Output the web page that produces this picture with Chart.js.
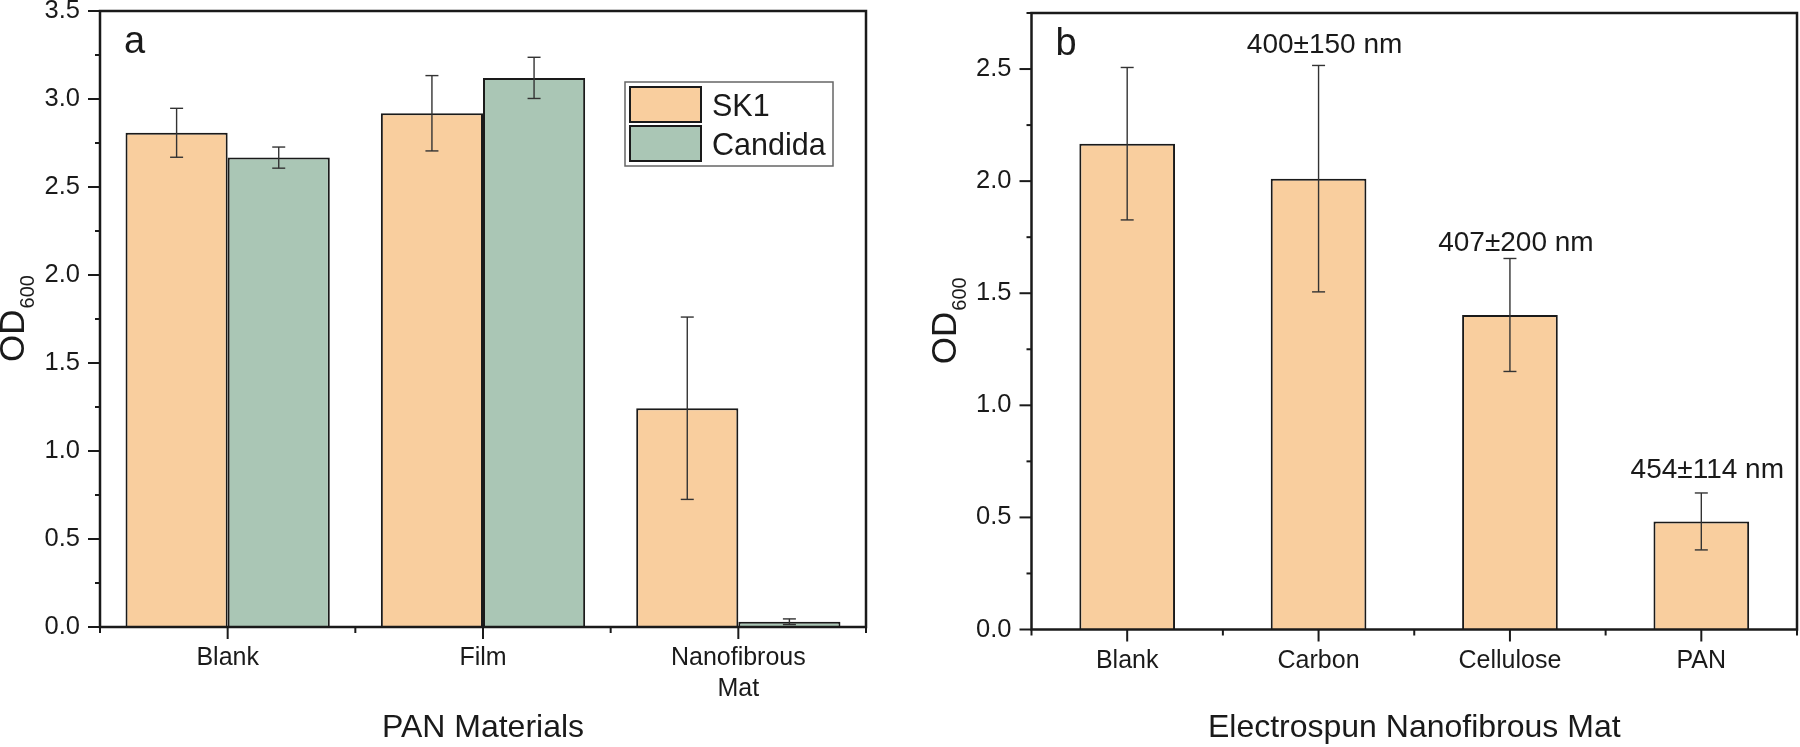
<!DOCTYPE html>
<html>
<head>
<meta charset="utf-8">
<script src="https://cdn.jsdelivr.net/npm/chart.js@4.4.1/dist/chart.umd.min.js"></script>
<style>
  body { margin: 0; background: #fff; width: 1800px; height: 747px; position: relative; overflow: hidden; }
  canvas { position: absolute; top: 0; }
  #chartA { left: 0; }
  #chartB { left: 900px; }
</style>
</head>
<body>
<canvas id="chartA" width="900" height="747"></canvas>
<canvas id="chartB" width="900" height="747"></canvas>
<script>
const FONT = "'Liberation Sans', Arial, Helvetica, sans-serif";
const INK = '#1a1a1a';

// panel a: PAN materials
const catsA = ['Blank', 'Film', ['Nanofibrous', 'Mat']];
const sk1 = [2.808, 2.919, 1.243];
const sk1Err = [0.139, 0.214, 0.518];
const candida = [2.667, 3.12, 0.03];
const candidaErr = [0.06, 0.117, 0.016];

// panel b: electrospun mats
const catsB = ['Blank', 'Carbon', 'Cellulose', 'PAN'];
const matOD = [2.167, 2.011, 1.403, 0.482];
const matErr = [0.34, 0.505, 0.252, 0.127];
const fiberLabels = ['', '400±150 nm', '407±200 nm', '454±114 nm'];
const fiberLabelY = [null, 2.57, 1.69, 0.677];

const orange = '#F9CE9E';
const green = '#AAC6B5';

function line(ctx, x1, y1, x2, y2) {
  ctx.beginPath();
  ctx.moveTo(x1, y1);
  ctx.lineTo(x2, y2);
  ctx.stroke();
}

// error bars, frame, ticks, panel letter, y title
const frame = {
  id: 'frame',
  afterDatasetsDraw(chart, args, opts) {
    const ctx = chart.ctx, a = chart.chartArea;
    const x = chart.scales.x, y = chart.scales.y;
    ctx.save();

    ctx.strokeStyle = '#333';
    ctx.lineWidth = 1.4;
    chart.data.datasets.forEach((ds, di) => {
      const meta = chart.getDatasetMeta(di);
      meta.data.forEach((bar, i) => {
        const v = ds.data[i], e = ds.err[i];
        const top = y.getPixelForValue(v + e), bot = y.getPixelForValue(v - e);
        line(ctx, bar.x, top, bar.x, bot);
        line(ctx, bar.x - 6.5, top, bar.x + 6.5, top);
        line(ctx, bar.x - 6.5, bot, bar.x + 6.5, bot);
      });
    });

    ctx.strokeStyle = INK;
    ctx.lineWidth = 2.5;
    ctx.strokeRect(a.left, a.top, a.right - a.left, a.bottom - a.top);

    // y ticks, major outward + minor halfway
    ctx.lineWidth = 2;
    const tv = y.ticks.map(t => t.value);
    const step = tv[1] - tv[0];
    tv.forEach(v => {
      const py = y.getPixelForValue(v);
      line(ctx, a.left - 12, py, a.left, py);
      const mid = v + step / 2;
      if (mid <= y.max + 1e-9) {
        const pm = y.getPixelForValue(mid);
        line(ctx, a.left - 5, pm, a.left, pm);
      }
    });

    // x ticks: long at categories, short at boundaries
    const n = chart.data.labels.length;
    for (let i = 0; i < n; i++) {
      const px = x.getPixelForTick(i);
      line(ctx, px, a.bottom, px, a.bottom + 12);
    }
    for (let i = 0; i <= n; i++) {
      const px = i === 0 ? a.left : i === n ? a.right : (x.getPixelForTick(i - 1) + x.getPixelForTick(i)) / 2;
      line(ctx, px, a.bottom, px, a.bottom + 6);
    }

    ctx.fillStyle = INK;
    ctx.font = '38px ' + FONT;
    ctx.textAlign = 'left';
    ctx.textBaseline = 'alphabetic';
    ctx.fillText(opts.letter, a.left + 24, a.top + 42);

    // OD600 title
    const cy = (a.top + a.bottom) / 2;
    ctx.font = '35px ' + FONT;
    const w1 = ctx.measureText('OD').width;
    ctx.font = '20px ' + FONT;
    const w2 = ctx.measureText('600').width;
    ctx.translate(a.left - 76, cy + (w1 + w2) / 2);
    ctx.rotate(-Math.PI / 2);
    ctx.font = '35px ' + FONT;
    ctx.fillText('OD', 0, 0);
    ctx.font = '20px ' + FONT;
    ctx.fillText('600', w1 + 1, 10);
    ctx.restore();
  }
};

const legendA = {
  id: 'legendA',
  afterDraw(chart) {
    const ctx = chart.ctx, a = chart.chartArea;
    const bx = a.right - 241, by = a.top + 71;
    ctx.save();
    ctx.fillStyle = '#fff';
    ctx.fillRect(bx, by, 208, 84);
    ctx.strokeStyle = '#666';
    ctx.lineWidth = 1.5;
    ctx.strokeRect(bx, by, 208, 84);
    chart.data.datasets.forEach((ds, i) => {
      const ry = by + 5 + i * 39;
      ctx.fillStyle = ds.backgroundColor;
      ctx.fillRect(bx + 5, ry, 71, 35);
      ctx.strokeStyle = INK;
      ctx.lineWidth = 2;
      ctx.strokeRect(bx + 5, ry, 71, 35);
      ctx.fillStyle = INK;
      ctx.font = '30.5px ' + FONT;
      ctx.textAlign = 'left';
      ctx.textBaseline = 'alphabetic';
      ctx.fillText(ds.label, bx + 87, ry + 29);
    });
    ctx.restore();
  }
};

const fiberText = {
  id: 'fiberText',
  afterDatasetsDraw(chart) {
    const ctx = chart.ctx, y = chart.scales.y;
    const meta = chart.getDatasetMeta(0);
    ctx.save();
    ctx.fillStyle = INK;
    ctx.font = '28px ' + FONT;
    ctx.textAlign = 'center';
    ctx.textBaseline = 'alphabetic';
    fiberLabels.forEach((t, i) => {
      if (!t) return;
      ctx.fillText(t, meta.data[i].x + 6, y.getPixelForValue(fiberLabelY[i]));
    });
    ctx.restore();
  }
};

function baseOptions(opt) {
  return {
    responsive: false,
    animation: false,
    devicePixelRatio: 1,
    layout: { padding: { left: 0, right: opt.padRight, top: opt.padTop, bottom: 0 } },
    plugins: {
      legend: { display: false },
      tooltip: { enabled: false },
      frame: { letter: opt.letter }
    },
    scales: {
      x: {
        offset: true,
        grid: { display: false, drawTicks: false },
        border: { display: false },
        ticks: { color: INK, font: { family: FONT, size: 25, lineHeight: 1.24 }, padding: 16 },
        title: { display: true, text: opt.xTitle, color: INK, font: { family: FONT, size: 32 }, padding: { top: 0, bottom: 0 } },
        afterFit(s) { s.height = opt.xHeight; s.paddingLeft = 0; s.paddingRight = 0; }
      },
      y: {
        min: 0,
        max: opt.yMax,
        grid: { display: false, drawTicks: false },
        border: { display: false },
        ticks: {
          stepSize: 0.5,
          includeBounds: false,
          color: INK,
          font: { family: FONT, size: 25.5 },
          padding: 20,
          callback: v => v.toFixed(1)
        },
        afterFit(s) { s.width = opt.yWidth; s.paddingTop = 0; s.paddingBottom = 0; }
      }
    }
  };
}

new Chart(document.getElementById('chartA'), {
  type: 'bar',
  data: {
    labels: catsA,
    datasets: [
      { label: 'SK1', data: sk1, err: sk1Err, backgroundColor: orange, borderColor: INK, borderWidth: 2,
        categoryPercentage: 0.8, barPercentage: 1.0 },
      { label: 'Candida', data: candida, err: candidaErr, backgroundColor: green, borderColor: INK, borderWidth: 2,
        categoryPercentage: 0.8, barPercentage: 1.0 }
    ]
  },
  options: baseOptions({ padRight: 34, padTop: 11, xHeight: 120, yWidth: 100, yMax: 3.5, letter: 'a', xTitle: 'PAN Materials' }),
  plugins: [frame, legendA]
});

new Chart(document.getElementById('chartB'), {
  type: 'bar',
  data: {
    labels: catsB,
    datasets: [
      { label: 'OD600', data: matOD, err: matErr, backgroundColor: orange, borderColor: INK, borderWidth: 2,
        categoryPercentage: 1.0, barPercentage: 0.5 }
    ]
  },
  options: baseOptions({ padRight: 3, padTop: 13, xHeight: 117.5, yWidth: 131.5, yMax: 2.75, letter: 'b', xTitle: 'Electrospun Nanofibrous Mat' }),
  plugins: [frame, fiberText]
});
</script>
</body>
</html>
